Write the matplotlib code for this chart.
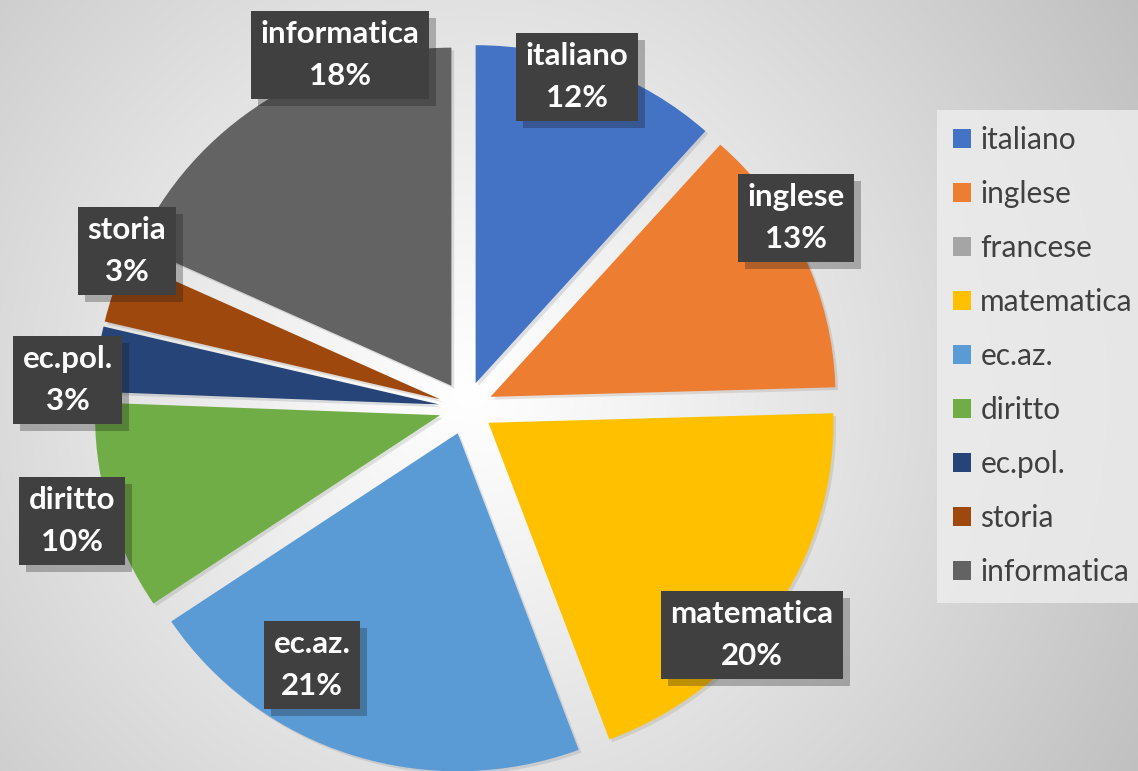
import numpy as np
import matplotlib
matplotlib.use("Agg")
import matplotlib.pyplot as plt
import matplotlib.patheffects as pe
from matplotlib.patches import Patch

categories = ["italiano", "inglese", "francese", "matematica", "ec.az.",
              "diritto", "ec.pol.", "storia", "informatica"]
values = [11.6, 12.95, 0, 19.75, 21.3, 10.0, 3.1, 3.1, 18.2]
colors = ["#4472C4", "#ED7D31", "#A5A5A5", "#FFC000", "#5B9BD5",
          "#70AD47", "#264478", "#9E480E", "#636363"]

W, H = 1138, 771
SY = 0.98  # slight vertical squeeze of the pie, as in the reference
YMAX = H / SY
fig = plt.figure(figsize=(W / 100, H / 100), dpi=100)

# radial background gradient
bg = fig.add_axes([0, 0, 1, 1])
yy, xx = np.mgrid[0:H, 0:W]
cx0, cy0 = 470, 390
d = np.sqrt((xx - cx0) ** 2 + (yy - cy0) ** 2) / 780.0
d = np.clip(d, 0, 1)
g = 1.0 - 0.25 * d ** 1.1
img = np.dstack([g, g, g])
bg.imshow(img, extent=[0, W, 0, H], origin="upper", aspect="auto")
bg.axis("off")


def py(y_px):
    """pixel row from top -> data y"""
    return (H - y_px) / SY


ax = fig.add_axes([0, 0, 1, 1])
ax.patch.set_alpha(0)
cx, cy = 466, py(408)
radius = 345
wedges, _ = ax.pie(values, colors=colors, startangle=90, counterclock=False,
                   center=(cx, cy), radius=radius, explode=[27] * len(values),
                   wedgeprops=dict(linewidth=0))
for w in wedges:
    w.set_path_effects([pe.SimplePatchShadow(offset=(2, -2), alpha=0.12), pe.Normal()])
ax.set_xlim(0, W)
ax.set_ylim(0, YMAX)
ax.set_aspect("auto")
ax.axis("off")

total = sum(values)
# label box centers (pixels from top-left)
label_pos = {
    "italiano": (577, 77),
    "inglese": (796, 218),
    "matematica": (752, 635),
    "ec.az.": (312, 665),
    "diritto": (72, 521),
    "ec.pol.": (68, 380),
    "storia": (127, 251),
    "informatica": (340, 55),
}
for name, v in zip(categories, values):
    if v == 0:
        continue
    x, y = label_pos[name]
    pct = int(round(100 * v / total))
    t = ax.text(x, py(y), f"{name}\n{pct}%", ha="center", va="center",
                color="white", fontsize=22.5, fontweight="bold", family="Lato",
                linespacing=1.6,
                bbox=dict(boxstyle="square,pad=0.3", facecolor="#404040",
                          edgecolor="none"))
    t.get_bbox_patch().set_path_effects(
        [pe.SimplePatchShadow(offset=(5, -5), alpha=0.28), pe.Normal()])

handles = [Patch(facecolor=c, edgecolor="none", label=n) for c, n in zip(colors, categories)]
leg = fig.legend(handles=handles, loc="upper left",
                 bbox_to_anchor=(937 / W, 1 - 110 / H), frameon=True,
                 prop=dict(family="Lato", size=21.5), labelcolor="#404040",
                 handlelength=0.6, handleheight=0.6, handletextpad=0.3,
                 labelspacing=0.87, borderpad=0.55, borderaxespad=0)
fr = leg.get_frame()
fr.set_facecolor("#eeeeee")
fr.set_edgecolor("none")
fr.set_boxstyle("square", pad=0)

fig.savefig("out.png", dpi=100)
